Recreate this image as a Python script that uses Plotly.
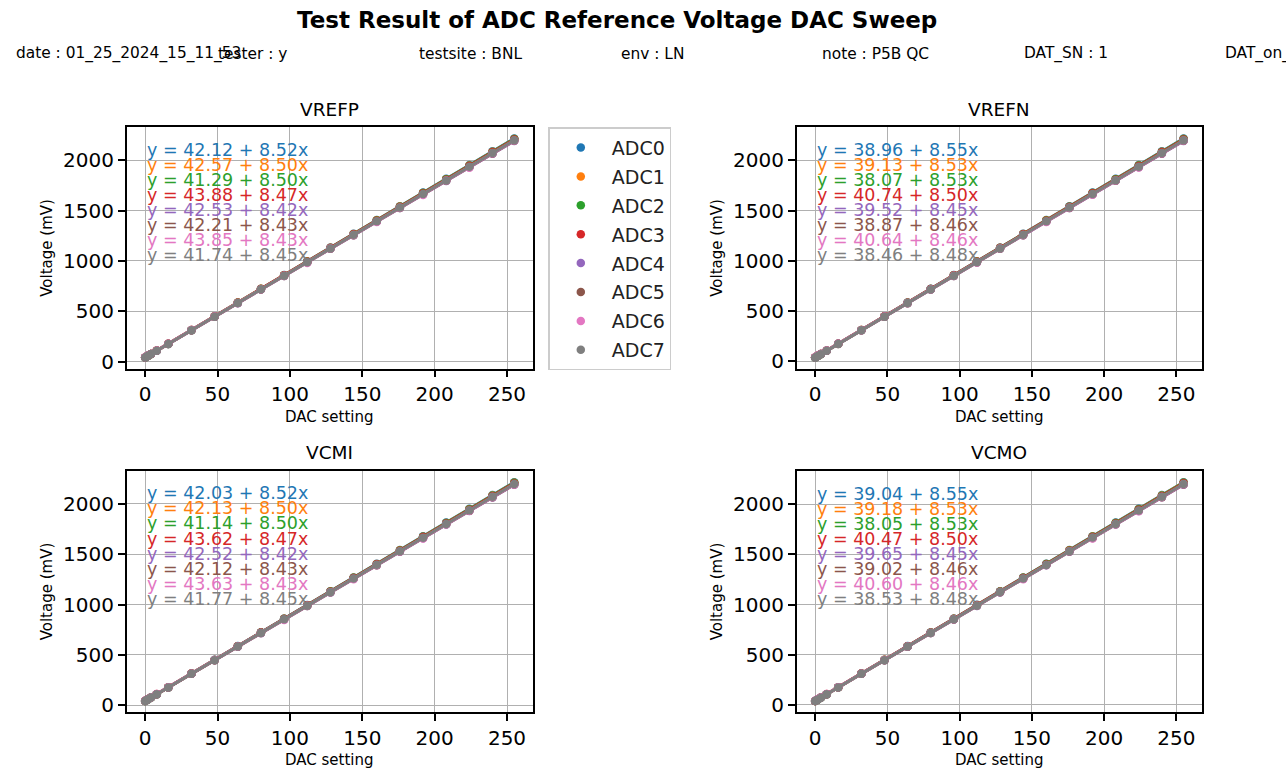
import plotly.graph_objects as go

# DAC codes swept for every reference voltage
dac = [0, 1, 2, 4, 8, 16, 32, 48, 64, 80, 96, 112, 128, 144, 160, 176, 192, 208, 224, 240, 255]

adc_names = ["ADC0", "ADC1", "ADC2", "ADC3", "ADC4", "ADC5", "ADC6", "ADC7"]
adc_colors = ["#1f77b4", "#ff7f0e", "#2ca02c", "#d62728",
              "#9467bd", "#8c564b", "#e377c2", "#7f7f7f"]

# Measured voltages (mV) per ADC
vrefp_mv = [
    [42, 51, 59, 76, 110, 178, 315, 451, 587, 724, 860, 996, 1133, 1269, 1405, 1542, 1678, 1814, 1951, 2087, 2215],
    [43, 51, 60, 77, 111, 179, 315, 451, 587, 723, 859, 995, 1131, 1267, 1403, 1539, 1675, 1811, 1947, 2083, 2210],
    [41, 50, 58, 75, 109, 177, 313, 449, 585, 721, 857, 993, 1129, 1265, 1401, 1537, 1673, 1809, 1945, 2081, 2209],
    [44, 52, 61, 78, 112, 179, 315, 450, 586, 721, 857, 993, 1128, 1264, 1399, 1535, 1670, 1806, 1941, 2077, 2204],
    [43, 51, 59, 76, 110, 177, 312, 447, 581, 716, 851, 986, 1120, 1255, 1390, 1524, 1659, 1794, 1929, 2063, 2190],
    [42, 51, 59, 76, 110, 177, 312, 447, 582, 717, 851, 986, 1121, 1256, 1391, 1526, 1661, 1796, 1931, 2065, 2192],
    [44, 52, 61, 78, 111, 179, 314, 448, 583, 718, 853, 980, 1123, 1258, 1385, 1528, 1655, 1797, 1925, 2067, 2194],
    [42, 50, 59, 76, 109, 177, 312, 447, 583, 718, 853, 988, 1123, 1259, 1394, 1529, 1664, 1799, 1935, 2070, 2196],
]
vrefn_mv = [
    [39, 48, 56, 73, 107, 176, 313, 449, 586, 723, 860, 997, 1133, 1270, 1407, 1544, 1681, 1817, 1954, 2091, 2219],
    [39, 48, 56, 73, 107, 176, 312, 449, 585, 722, 858, 994, 1131, 1267, 1404, 1540, 1677, 1813, 1950, 2086, 2214],
    [38, 47, 55, 72, 106, 175, 311, 448, 584, 720, 857, 993, 1130, 1266, 1403, 1539, 1676, 1812, 1949, 2085, 2213],
    [41, 49, 58, 75, 109, 177, 313, 449, 585, 721, 857, 993, 1129, 1265, 1401, 1537, 1673, 1809, 1945, 2081, 2208],
    [40, 48, 56, 73, 107, 175, 310, 445, 580, 716, 851, 986, 1121, 1256, 1392, 1527, 1662, 1797, 1932, 2068, 2194],
    [39, 47, 56, 73, 107, 174, 310, 445, 580, 716, 851, 986, 1122, 1257, 1392, 1528, 1663, 1799, 1934, 2069, 2196],
    [41, 49, 58, 74, 108, 176, 311, 447, 582, 717, 853, 982, 1124, 1259, 1388, 1530, 1659, 1800, 1930, 2071, 2198],
    [38, 47, 55, 72, 106, 174, 310, 446, 581, 717, 853, 988, 1124, 1260, 1395, 1531, 1667, 1802, 1938, 2074, 2201],
]
vcmi_mv = [
    [42, 51, 59, 76, 110, 178, 315, 451, 587, 724, 860, 996, 1133, 1269, 1405, 1542, 1678, 1814, 1951, 2087, 2215],
    [42, 51, 59, 76, 110, 178, 314, 450, 586, 722, 858, 994, 1130, 1266, 1402, 1538, 1674, 1810, 1946, 2082, 2210],
    [41, 50, 58, 75, 109, 177, 313, 449, 585, 721, 857, 993, 1129, 1265, 1401, 1537, 1673, 1809, 1945, 2081, 2209],
    [44, 52, 61, 77, 111, 179, 315, 450, 586, 721, 857, 992, 1128, 1263, 1399, 1534, 1670, 1805, 1941, 2076, 2203],
    [43, 51, 59, 76, 110, 177, 312, 447, 581, 716, 851, 986, 1120, 1255, 1390, 1524, 1659, 1794, 1929, 2063, 2190],
    [42, 51, 59, 76, 110, 177, 312, 447, 582, 717, 851, 986, 1121, 1256, 1391, 1526, 1661, 1796, 1930, 2065, 2192],
    [44, 52, 60, 77, 111, 179, 313, 448, 583, 718, 846, 988, 1123, 1251, 1392, 1527, 1656, 1797, 1932, 2067, 2193],
    [42, 50, 59, 76, 109, 177, 312, 447, 583, 718, 853, 988, 1123, 1259, 1394, 1529, 1664, 1799, 1935, 2070, 2196],
]
vcmo_mv = [
    [39, 48, 56, 73, 107, 176, 313, 449, 586, 723, 860, 997, 1133, 1270, 1407, 1544, 1681, 1817, 1954, 2091, 2219],
    [39, 48, 56, 73, 107, 176, 312, 449, 585, 722, 858, 995, 1131, 1268, 1404, 1540, 1677, 1813, 1950, 2086, 2214],
    [38, 47, 55, 72, 106, 175, 311, 448, 584, 720, 857, 993, 1130, 1266, 1403, 1539, 1676, 1812, 1949, 2085, 2213],
    [40, 49, 57, 74, 108, 176, 312, 448, 584, 720, 856, 992, 1128, 1264, 1400, 1536, 1672, 1808, 1944, 2080, 2208],
    [40, 48, 57, 73, 107, 175, 310, 445, 580, 716, 851, 986, 1121, 1256, 1392, 1527, 1662, 1797, 1932, 2068, 2194],
    [39, 47, 56, 73, 107, 174, 310, 445, 580, 716, 851, 987, 1122, 1257, 1393, 1528, 1663, 1799, 1934, 2069, 2196],
    [41, 49, 58, 74, 108, 176, 311, 447, 582, 717, 853, 988, 1124, 1252, 1394, 1530, 1658, 1800, 1929, 2071, 2198],
    [39, 47, 55, 72, 106, 174, 310, 446, 581, 717, 853, 988, 1124, 1260, 1395, 1531, 1667, 1802, 1938, 2074, 2201],
]

# Linear fit results: intercept (mV) and slope (mV / DAC code)
vrefp_intercept = [42.12, 42.57, 41.29, 43.88, 42.53, 42.21, 43.85, 41.74]
vrefp_slope = [8.52, 8.50, 8.50, 8.47, 8.42, 8.43, 8.43, 8.45]
vrefn_intercept = [38.96, 39.13, 38.07, 40.74, 39.52, 38.87, 40.64, 38.46]
vrefn_slope = [8.55, 8.53, 8.53, 8.50, 8.45, 8.46, 8.46, 8.48]
vcmi_intercept = [42.03, 42.13, 41.14, 43.62, 42.52, 42.12, 43.63, 41.77]
vcmi_slope = [8.52, 8.50, 8.50, 8.47, 8.42, 8.43, 8.43, 8.45]
vcmo_intercept = [39.04, 39.18, 38.05, 40.47, 39.65, 39.02, 40.60, 38.53]
vcmo_slope = [8.55, 8.53, 8.53, 8.50, 8.45, 8.46, 8.46, 8.48]

panel_names = ["VREFP", "VREFN", "VCMI", "VCMO"]

info_labels = ["date : 01_25_2024_15_11_53", "tester : y", "testsite : BNL", "env : LN",
               "note : P5B QC", "DAT_SN : 1", "DAT_on_WIB_slot : 0"]

title_text = "Test Result of ADC Reference Voltage DAC Sweep"

# ---------------------------------------------------------------- layout
W, H = 1286, 770
FONT = "DejaVu Sans"

col_px = [(126.7, 532.7), (796.7, 1202.0)]
row_px = [(128.3, 371.0), (474.3, 716.7)]

panels = [
    (vrefp_mv, vrefp_intercept, vrefp_slope),
    (vrefn_mv, vrefn_intercept, vrefn_slope),
    (vcmi_mv, vcmi_intercept, vcmi_slope),
    (vcmo_mv, vcmo_intercept, vcmo_slope),
]

fig = go.Figure()
annotations = []

for p, (name, (meas, icpt, slp)) in enumerate(zip(panel_names, panels)):
    r, c = divmod(p, 2)
    ax = "" if p == 0 else str(p + 1)
    xref, yref = "x" + ax, "y" + ax

    x0p, x1p = col_px[c]
    y0p, y1p = row_px[r]
    xdom = [x0p / W, x1p / W]
    ydom = [1 - y1p / H, 1 - y0p / H]

    xfit = [min(dac), max(dac)]
    all_y = [v for s in meas for v in s]
    for k in range(8):
        yfit = [icpt[k] + slp[k] * xv for xv in xfit]
        all_y += yfit
        fig.add_trace(go.Scatter(
            x=dac, y=meas[k], mode="markers", name=adc_names[k],
            marker=dict(color=adc_colors[k], size=8.5, line=dict(width=0)),
            legendgroup=adc_names[k], showlegend=(p == 0),
            xaxis=xref, yaxis=yref))
        fig.add_trace(go.Scatter(
            x=xfit, y=yfit, mode="lines",
            line=dict(color=adc_colors[k], width=3),
            showlegend=False, hoverinfo="skip",
            xaxis=xref, yaxis=yref))

    # matplotlib-style 5% auto margins
    xspan = max(dac) - min(dac)
    ymin, ymax = min(all_y), max(all_y)
    yspan = ymax - ymin
    xr = [min(dac) - 0.05 * xspan, max(dac) + 0.05 * xspan]
    yr = [ymin - 0.05 * yspan, ymax + 0.05 * yspan]

    common = dict(showline=True, linecolor="black", linewidth=1.5, mirror=True,
                  ticks="outside", ticklen=7, tickwidth=1.5, tickcolor="black",
                  showgrid=True, gridcolor="#b0b0b0", gridwidth=1.4,
                  zeroline=False, tickfont=dict(family=FONT, size=20, color="black"))
    fig.layout["xaxis" + ax] = dict(domain=xdom, range=xr, tickvals=[0, 50, 100, 150, 200, 250],
                                     anchor=yref, **common)
    fig.layout["yaxis" + ax] = dict(domain=ydom, range=yr, tickvals=[0, 500, 1000, 1500, 2000],
                                     anchor=xref, **common)

    # fit equations
    for k in range(8):
        annotations.append(dict(
            x=0, y=2105 - 150 * k, xref=xref, yref=yref, xanchor="left", yanchor="middle",
            text=f"y = {icpt[k]:.2f} + {slp[k]:.2f}x", showarrow=False,
            font=dict(family=FONT, size=17.5, color=adc_colors[k])))

    xc = (x0p + x1p) / 2
    # panel title
    annotations.append(dict(x=xc / W, y=1 - (y0p - 18.5) / H, xref="paper", yref="paper",
                            text=name, showarrow=False, xanchor="center", yanchor="middle",
                            font=dict(family=FONT, size=18.5, color="black")))
    # axis titles
    annotations.append(dict(x=xc / W, y=1 - (y1p + 48.5) / H, xref="paper", yref="paper",
                            text="DAC setting", showarrow=False, xanchor="center", yanchor="middle",
                            font=dict(family=FONT, size=15, color="black")))
    annotations.append(dict(x=(x0p - 80) / W, y=1 - (y0p + y1p) / 2 / H, xref="paper", yref="paper",
                            text="Voltage (mV)", showarrow=False, textangle=-90,
                            xanchor="center", yanchor="middle",
                            font=dict(family=FONT, size=15, color="black")))

# header information line
for i, lab in enumerate(info_labels):
    annotations.append(dict(x=(14 + 201.5 * i) / W, y=1 - 54 / H, xref="paper", yref="paper",
                            text=lab, showarrow=False, xanchor="left", yanchor="middle",
                            font=dict(family=FONT, size=15.4, color="black")))

# figure title
annotations.append(dict(x=617 / W, y=1 - 20 / H, xref="paper", yref="paper",
                        text=f"<b>{title_text}</b>", showarrow=False,
                        xanchor="center", yanchor="middle",
                        font=dict(family=FONT, size=23, color="black")))

fig.update_layout(
    width=W, height=H, autosize=False,
    margin=dict(l=0, r=0, t=0, b=0),
    paper_bgcolor="white", plot_bgcolor="white",
    annotations=annotations,
    showlegend=True,
    legend=dict(x=548.3 / W, y=1 - 128 / H, xanchor="left", yanchor="top",
                bordercolor="#cccccc", borderwidth=1.5, bgcolor="white",
                font=dict(family=FONT, size=19, color="#222222"),
                itemwidth=52, tracegroupgap=1.2),
    font=dict(family=FONT),
)

fig.write_html("out.html")
